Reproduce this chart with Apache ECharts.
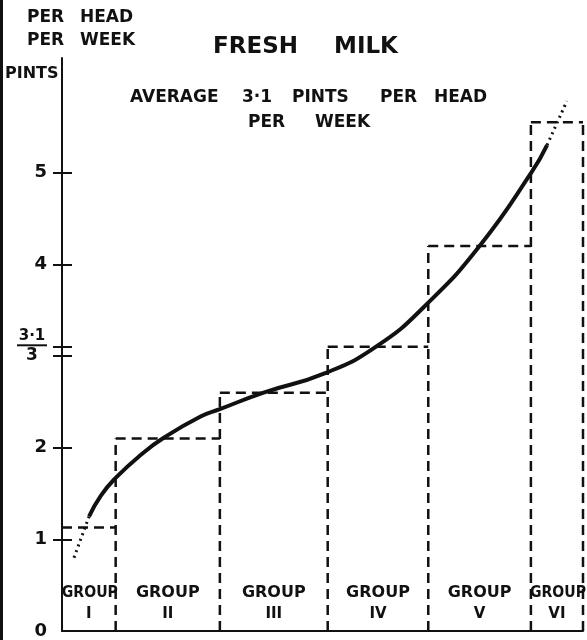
<!DOCTYPE html>
<html>
<head>
<meta charset="utf-8">
<script src="https://cdn.jsdelivr.net/npm/echarts@6/dist/echarts.min.js"></script>
<style>
  html, body { margin: 0; padding: 0; background: #fff; }
  #main { width: 587px; height: 640px; }
</style>
</head>
<body>
<div id="main"></div>
<script>
// income groups, band edges along the population axis (% of population)
var groups = ['I', 'II', 'III', 'IV', 'V', 'VI'];
var bandEdges = [0, 10.3, 30.3, 51, 70.3, 90, 100];
// fresh milk, pints per head per week
var pints = [1.13, 2.1, 2.6, 3.1, 4.2, 5.55];

// smoothed curve (solid part) and its dotted ends
var curveX = [5.2, 7.5, 10.3, 15.1, 19.6, 26.6, 30.3, 38.7, 50.4, 60.5, 70.1, 80.3, 90.2, 93.1];
var curveY = [1.25, 1.48, 1.67, 1.92, 2.11, 2.34, 2.42, 2.6, 2.81, 3.11, 3.57, 4.21, 5.01, 5.3];
var lowX = [2.3, 5.2];
var lowY = [0.8, 1.25];
var highX = [93.1, 96.9];
var highY = [5.3, 5.78];

var tickValues = [1, 2, 3, 3.1, 4, 5];
var labelValues = [0, 1, 2, 3.1, 4, 5];

var FONT = "'DejaVu Sans', sans-serif";
var INK = '#111';

function pairs(xs, ys) {
    return xs.map(function (x, i) { return [x, ys[i]]; });
}

function word(text, x, y, size) {
    return { type: 'text', left: x, top: y, style: { text: text, font: 'bold ' + size + 'px ' + FONT, fill: INK } };
}

var bands = groups.map(function (g, i) {
    return [bandEdges[i], bandEdges[i + 1], pints[i]];
});

var myChart = echarts.init(document.getElementById('main'));

var dash = { stroke: INK, lineWidth: 2.5, lineDash: [10, 6] };

var option = {
    animation: false,
    grid: { left: 62, right: 4, top: 58, bottom: 9 },
    graphic: [
        // scan edge on the left
        { type: 'rect', shape: { x: 0, y: 0, width: 3, height: 640 }, style: { fill: INK } },
        word('PER', 27, 9, 17), word('HEAD', 80, 9, 17),
        word('PER', 27, 32, 17), word('WEEK', 80, 32, 17),
        word('FRESH', 213, 36, 23), word('MILK', 334, 36, 23),
        word('PINTS', 5, 66, 16),
        word('AVERAGE', 130, 89, 17), word('3·1', 242, 89, 17), word('PINTS', 292, 89, 17),
        word('PER', 380, 89, 17), word('HEAD', 434, 89, 17),
        word('PER', 248, 114, 17), word('WEEK', 315, 114, 17)
    ],
    xAxis: {
        type: 'value',
        min: 0,
        max: 100,
        axisLine: { show: true, lineStyle: { color: INK, width: 2 } },
        axisTick: { show: false },
        axisLabel: { show: false },
        splitLine: { show: false }
    },
    yAxis: [
        {
            type: 'value',
            min: 0,
            max: 6.25,
            axisLine: { show: true, lineStyle: { color: INK, width: 2 } },
            axisTick: { show: true, customValues: tickValues, length: 9, lineStyle: { color: INK, width: 2 } },
            axisLabel: {
                customValues: labelValues,
                margin: 15,
                color: INK,
                fontFamily: FONT,
                fontWeight: 'bold',
                fontSize: 18,
                formatter: function (v) {
                    if (v === 3.1) return '{n|3·1}\n{bar|}\n{d|3}';
                    return String(v);
                },
                rich: {
                    n: { fontSize: 15, fontWeight: 'bold', fontFamily: FONT, color: INK, lineHeight: 14, align: 'center' },
                    bar: { backgroundColor: INK, height: 2, width: 30, lineHeight: 4 },
                    d: { fontSize: 17, fontWeight: 'bold', fontFamily: FONT, color: INK, lineHeight: 17, align: 'center' }
                }
            },
            splitLine: { show: false }
        },
        {
            type: 'value',
            min: 0,
            max: 6.25,
            position: 'left',
            axisLine: { show: false },
            axisTick: { show: true, inside: true, customValues: tickValues, length: 10, lineStyle: { color: INK, width: 2 } },
            axisLabel: { show: false },
            splitLine: { show: false }
        }
    ],
    series: [
        {
            name: 'Groups',
            type: 'custom',
            data: bands,
            renderItem: function (params, api) {
                var i = params.dataIndex;
                var x0 = api.value(0), x1 = api.value(1), v = api.value(2);
                var tl = api.coord([x0, v]);
                var br = api.coord([x1, 0]);
                var kids = [
                    { type: 'line', shape: { x1: tl[0], y1: tl[1], x2: br[0], y2: tl[1] }, style: dash }
                ];
                // shared boundary with the previous band, drawn once up to the higher top
                if (i > 0) {
                    var top = api.coord([x0, Math.max(v, pints[i - 1])]);
                    kids.push({ type: 'line', shape: { x1: tl[0], y1: br[1], x2: tl[0], y2: top[1] }, style: dash });
                }
                if (i === groups.length - 1) {
                    kids.push({ type: 'line', shape: { x1: br[0], y1: br[1], x2: br[0], y2: tl[1] }, style: dash });
                }
                // the two thin groups get a squeezed label, like the original
                var narrow = (x1 - x0) < 15;
                var mid = (tl[0] + br[0]) / 2;
                kids.push({
                    type: 'text',
                    x: mid + (narrow ? 1 : 0),
                    y: br[1] - 38,
                    scaleX: narrow ? 0.88 : 1,
                    style: {
                        text: 'GROUP',
                        x: 0,
                        y: 0,
                        align: 'center',
                        verticalAlign: 'middle',
                        font: 'bold 16px ' + FONT,
                        fill: INK
                    }
                });
                kids.push({
                    type: 'text',
                    style: {
                        text: groups[i],
                        x: mid,
                        y: br[1] - 17,
                        align: 'center',
                        verticalAlign: 'middle',
                        font: 'bold 15px ' + FONT,
                        fill: INK
                    }
                });
                return { type: 'group', children: kids };
            }
        },
        {
            name: 'Curve',
            type: 'line',
            data: pairs(curveX, curveY),
            smooth: 0.5,
            symbol: 'none',
            lineStyle: { color: INK, width: 4 }
        },
        {
            name: 'Low end',
            type: 'line',
            data: pairs(lowX, lowY),
            symbol: 'none',
            lineStyle: { color: INK, width: 3, type: [2, 4] }
        },
        {
            name: 'High end',
            type: 'line',
            data: pairs(highX, highY),
            symbol: 'none',
            lineStyle: { color: INK, width: 3, type: [2, 4] }
        }
    ]
};

myChart.setOption(option);
</script>
</body>
</html>
